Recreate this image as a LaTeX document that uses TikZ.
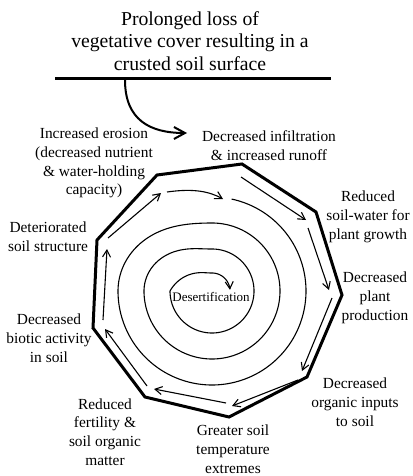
\documentclass[tikz,border=0pt]{standalone}
\usepackage{fontspec}
\setmainfont{Liberation Serif}
\usetikzlibrary{arrows.meta}
\begin{document}
\begin{tikzpicture}[x=1pt,y=-1pt,
  lbl/.style={align=center, font=\fontsize{15.4}{18.8}\selectfont, inner sep=0pt},
  ttl/.style={align=center, font=\fontsize{19.7}{22.8}\selectfont, inner sep=0pt},
  rim/.style={line width=3pt, line join=miter},
  tip/.style={-{Straight Barb[length=7pt,width=8pt,line width=1.1pt]}},
  flow/.style={line width=1.1pt, tip},
  declare function={sfr(\t)=\t-360*floor(\t/360);
    spr(\t)=94-26*floor(\t/360)-13*(1-cos(2*max(0,sfr(\t)-270)));
    spq(\t)=42-24*sin(min(90,\t-990));}
]
\useasboundingbox (0,0) rectangle (412,476);

% title and bar
\node[ttl] (title) at (190,41) {Prolonged loss of\\vegetative cover resulting in a\\crusted soil surface};
\coordinate (barL) at (55,79);
\coordinate (barR) at (331,79);
\draw[line width=3pt] (barL) -- (barR);
\coordinate (drop) at (125,80);
\coordinate (entry) at (187,133);
\draw[line width=2pt, -{Straight Barb[length=11pt,width=12pt,line width=2pt]}]
  (drop) .. controls (125,120) and (150,133) .. (entry);

% polygon
\coordinate (A) at (157,175);
\coordinate (B) at (242,164);
\coordinate (C) at (316,212);
\coordinate (D) at (342,295);
\coordinate (E) at (307,377);
\coordinate (F) at (229,417);
\coordinate (G) at (145,397);
\coordinate (H) at (93,328);
\coordinate (I) at (97,240);
\draw[rim] (A) -- (B) -- (C) -- (D) -- (E) -- (F) -- (G) -- (H) -- (I) -- cycle;

% labels
\node[lbl] (l1) at (94,163) {Increased erosion\\(decreased nutrient\\\& water-holding\\capacity)};
\node[lbl] (l2) at (269,146) {Decreased infiltration\\\& increased runoff};
\node[lbl] (l3) at (368,217) {Reduced\\soil-water for\\plant growth};
\node[lbl] (l4) at (375,298) {Decreased\\plant\\production};
\node[lbl] (l5) at (355,402) {Decreased\\organic inputs\\to soil};
\node[lbl] (l6) at (233,449) {Greater soil\\temperature\\extremes};
\node[lbl] (l7) at (105,432) {Reduced\\fertility \&\\soil organic\\matter};
\node[lbl] (l8) at (49,338) {Decreased\\biotic activity\\in soil};
\node[lbl] (l9) at (48,237) {Deteriorated\\soil structure};

% inner arrows along the rim
\coordinate (a1s) at (167,192); \coordinate (a1e) at (223,199);
\coordinate (a2s) at (241,177); \coordinate (a2e) at (306,220);
\coordinate (a3s) at (308,228); \coordinate (a3e) at (329,290);
\coordinate (a4s) at (332,298); \coordinate (a4e) at (302,371);
\coordinate (a5s) at (298,380); \coordinate (a5e) at (232,406);
\coordinate (a6s) at (226,403); \coordinate (a6e) at (154,389);
\coordinate (a7s) at (147,386); \coordinate (a7e) at (105,329);
\coordinate (a8s) at (103,320); \coordinate (a8e) at (107,249);
\coordinate (a9s) at (108,238); \coordinate (a9e) at (161,193);
\draw[flow] (a1s) .. controls (195,188) and (210,192) .. (a1e);
\draw[flow] (a2s) -- (a2e);
\draw[flow] (a3s) -- (a3e);
\draw[flow] (a4s) -- (a4e);
\draw[flow] (a5s) -- (a5e);
\draw[flow] (a6s) -- (a6e);
\draw[flow] (a7s) -- (a7e);
\draw[flow] (a8s) -- (a8e);
\draw[flow] (a9s) -- (a9e);

% spiral
\draw[flow] plot[domain=12:990, samples=490, variable=\t]
  ({212+spr(\t)*sin(\t)},{291-spr(\t)*cos(\t)})
  -- plot[domain=990:1166, samples=90, variable=\t]
  ({212+spq(\t)*sin(\t)},{291-spq(\t)*cos(\t)});
\node[inner sep=0pt, font=\fontsize{13}{15}\selectfont] (des) at (211,297) {Desertification};
\end{tikzpicture}
\end{document}
